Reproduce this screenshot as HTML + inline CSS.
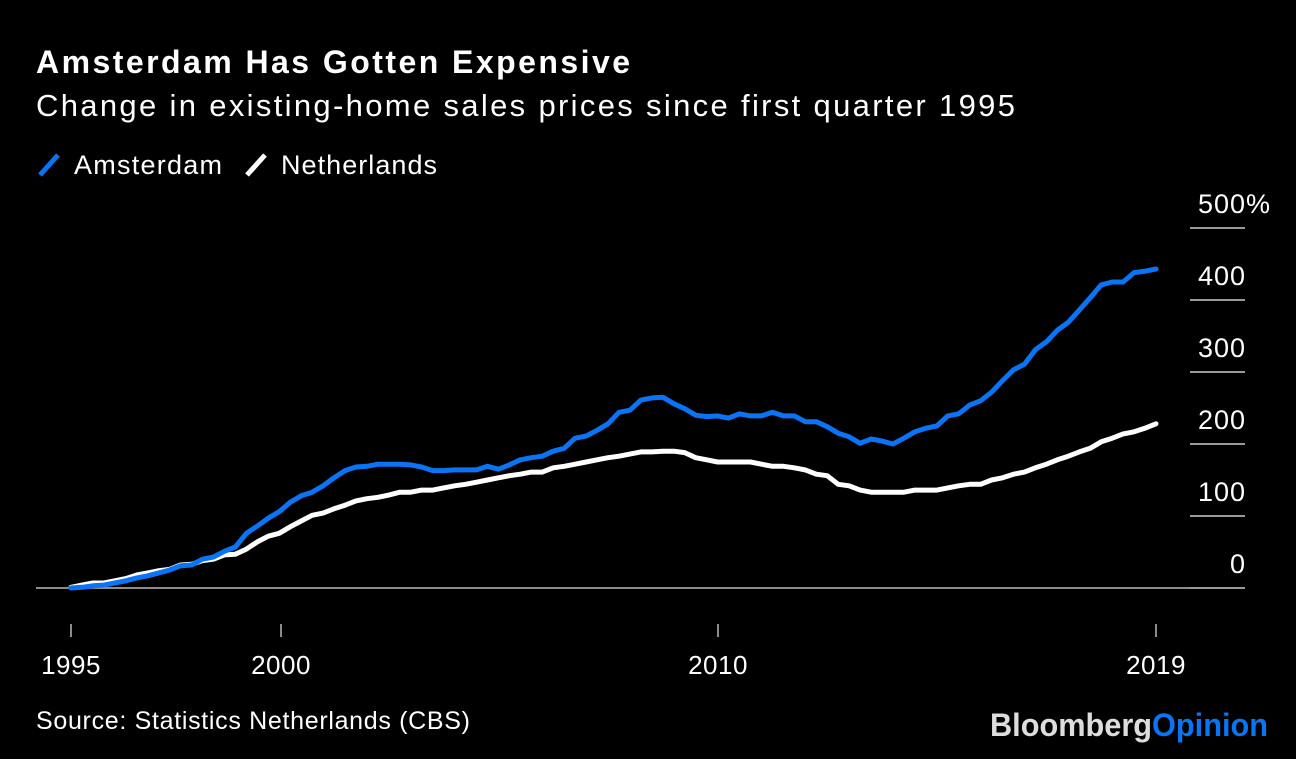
<!DOCTYPE html>
<html><head><meta charset="utf-8"><style>
body{margin:0;background:#000;width:1296px;height:754px;overflow:hidden;font-family:"Liberation Sans",sans-serif;color:#fff}
</style></head><body>
<svg width="1296" height="754" xmlns="http://www.w3.org/2000/svg">
<text x="36" y="73" font-size="32" font-weight="bold" fill="#fff" textLength="594" lengthAdjust="spacing">Amsterdam Has Gotten Expensive</text>
<text x="36" y="116" font-size="31" fill="#fff" textLength="979" lengthAdjust="spacing">Change in existing-home sales prices since first quarter 1995</text>
<g>
<line x1="40" y1="175" x2="58" y2="155" stroke="#0a74f5" stroke-width="5"/>
<text x="74" y="174" font-size="27" fill="#fff" textLength="148" lengthAdjust="spacing">Amsterdam</text>
<line x1="247" y1="175" x2="265" y2="155" stroke="#fff" stroke-width="5"/>
<text x="281" y="174" font-size="27" fill="#fff" textLength="156" lengthAdjust="spacing">Netherlands</text>
</g>
<g id="axes"></g>
<g id="series"></g>
<text x="36" y="729" font-size="25" fill="#fff" textLength="434" lengthAdjust="spacing">Source: Statistics Netherlands (CBS)</text>
<text x="990" y="736" font-size="32" font-weight="bold" textLength="278" lengthAdjust="spacingAndGlyphs"><tspan fill="#ddd">Bloomberg</tspan><tspan fill="#0a74f5">Opinion</tspan></text>
</svg>
<script>
const yTicks=[0,100,200,300,400,500];
const yTickLabels=["0","100","200","300","400","500%"];
const xTicks=[1995,2000,2010,2019];
const xTickLabels=["1995","2000","2010","2019"];
const amsterdam=[0,1,3,4,7,10,14,17,21,25,31,32,40,43,51,57,76,86,97,106,119,128,133,142,153,163,168,169,172,172,172,171,168,163,163,164,164,164,169,165,171,178,181,183,190,194,208,211,219,228,244,247,261,264,265,256,249,240,238,239,236,242,239,239,244,239,239,231,231,224,215,210,201,207,204,200,208,217,222,225,239,242,254,260,272,288,303,311,331,342,358,369,386,403,421,425,425,438,440,443];
const netherlands=[1,4,7,7,10,13,18,21,24,26,32,33,38,40,46,47,54,64,72,76,85,93,101,104,110,115,121,124,126,129,133,133,136,136,139,142,144,147,150,153,156,158,161,161,167,169,172,175,178,181,183,186,189,189,190,190,188,181,178,175,175,175,175,172,169,169,167,164,158,156,144,142,136,133,133,133,133,136,136,136,139,142,144,144,150,153,158,161,167,172,178,183,189,194,203,208,214,217,222,228];
const NS="http://www.w3.org/2000/svg";
const yS=v=>588-v*0.72;
const kx=[1995,2000,2010,2019],px=[71,281,718,1156];
function xS(t){for(let i=0;i<kx.length-1;i++){if(t<=kx[i+1]||i===kx.length-2){return px[i]+(t-kx[i])/(kx[i+1]-kx[i])*(px[i+1]-px[i]);}}}
const xI=(i,n)=>71+i*(1156-71)/(n-1);
function mk(tag,a,parent){const e=document.createElementNS(NS,tag);for(const k in a)e.setAttribute(k,a[k]);parent.appendChild(e);return e;}
const axes=document.getElementById('axes'),ser=document.getElementById('series');
yTicks.forEach((v,i)=>{
 const l=mk('line',{x1:1190,x2:1245,y1:yS(v),y2:yS(v),stroke:'#ccc','stroke-width':1.5},axes);
 
 
 const t=mk('text',{x:v===500?1271:1246,y:yS(v)-15,'font-size':27,fill:'#fff','text-anchor':'end','letter-spacing':'1'},axes);
 t.textContent=yTickLabels[i];
 
 
});
const zl=mk('line',{x1:36,x2:1190,y1:yS(0),y2:yS(0),stroke:'#bbb','stroke-width':1.5},axes);


xTicks.forEach((y,i)=>{
 const l=mk('line',{x1:xS(y),x2:xS(y),y1:624,y2:637,stroke:'#bbb','stroke-width':1.5},axes);
 
 
 const t=mk('text',{x:xS(y),y:674,'font-size':26,fill:'#fff','text-anchor':'middle','letter-spacing':'0.5'},axes);
 t.textContent=xTickLabels[i];
 
 
});
function line(data,color,name){
 const n=data.length;
 const pts=data.map((v,i)=>xI(i,n).toFixed(1)+','+yS(v).toFixed(1)).join(' ');
 const p=mk('polyline',{points:pts,fill:'none',stroke:color,'stroke-width':5,'stroke-linejoin':'round','stroke-linecap':'round'},ser);
 
 
}
line(netherlands,'#ffffff','netherlands-line');
line(amsterdam,'#0a74f5','amsterdam-line');
</script>
</body></html>
